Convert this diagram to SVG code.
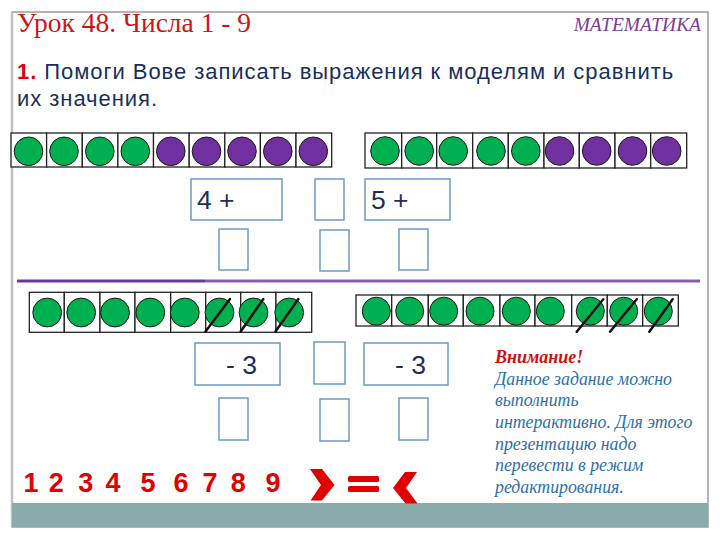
<svg xmlns="http://www.w3.org/2000/svg" width="720" height="540" viewBox="0 0 720 540">
<style>
.cell{fill:#ffffff;stroke:#222;stroke-width:1.3}
.g{fill:#00b050;stroke:#1a1a1a;stroke-width:1}
.p{fill:#7030a0;stroke:#1a1a1a;stroke-width:1}
.box{fill:#ffffff;stroke:#6a9bc7;stroke-width:1.5}
.slash{stroke:#111;stroke-width:2.5;stroke-linecap:round}
.bt{font-family:"Liberation Sans",Arial,sans-serif;font-size:26.5px;fill:#1f2d5a}
.dig{font-family:"Liberation Sans",Arial,sans-serif;font-size:27px;font-weight:bold;fill:#e00000;text-anchor:middle}
.note{font-family:"Liberation Serif","Times New Roman",serif;font-style:italic;font-size:17.8px;fill:#2e6fae}
.sym{fill:#e00000}
</style>
<rect x="0" y="0" width="720" height="540" fill="#ffffff"/>
<g id="frame">
<rect x="12" y="12" width="696" height="515" fill="#ffffff" stroke="#9a9a9a" stroke-width="1.5"/>
<line x1="12" y1="12" x2="12" y2="527" stroke="#c0c0c0" stroke-width="2.5"/>
<rect x="12" y="503" width="696" height="24" fill="#8aabab"/>
</g>
<g id="title">
<text x="17" y="32" font-family="Liberation Serif,'Times New Roman',serif" font-size="27.5" fill="#c81818">Урок 48. Числа 1 - 9</text>
<text x="701" y="31" text-anchor="end" font-family="Liberation Serif,'Times New Roman',serif" font-style="italic" font-size="19.5" fill="#7a3d98">МАТЕМАТИКА</text>
</g>
<g id="task" font-family="Liberation Sans,Arial,sans-serif" font-size="22" letter-spacing="0.95" fill="#17305e">
<text x="17" y="79"><tspan font-weight="bold" fill="#e00000">1.</tspan> Помоги Вове записать выражения к моделям и сравнить</text>
<text x="17" y="106">их значения.</text>
</g>
<g id="row1">
<rect class="cell" x="11" y="133" width="35.6" height="34"/>
<rect class="cell" x="46.6" y="133" width="35.7" height="34"/>
<rect class="cell" x="82.3" y="133" width="35.6" height="34"/>
<rect class="cell" x="117.9" y="133" width="35.6" height="34"/>
<rect class="cell" x="153.5" y="133" width="35.7" height="34"/>
<rect class="cell" x="189.2" y="133" width="35.6" height="34"/>
<rect class="cell" x="224.8" y="133" width="35.6" height="34"/>
<rect class="cell" x="260.4" y="133" width="35.6" height="34"/>
<rect class="cell" x="296" y="133" width="35.7" height="34"/>
<circle class="g" cx="28.5" cy="151.3" r="14.3"/>
<circle class="g" cx="64" cy="151.3" r="14.3"/>
<circle class="g" cx="99.8" cy="151.3" r="14.3"/>
<circle class="g" cx="135.3" cy="151.3" r="14.3"/>
<circle class="p" cx="170.8" cy="151.3" r="14.3"/>
<circle class="p" cx="206.5" cy="151.3" r="14.3"/>
<circle class="p" cx="242" cy="151.3" r="14.3"/>
<circle class="p" cx="277.8" cy="151.3" r="14.3"/>
<circle class="p" cx="313.3" cy="151.3" r="14.3"/>
</g>
<g id="row2">
<rect class="cell" x="365" y="133" width="36.7" height="35"/>
<rect class="cell" x="401.7" y="133" width="35" height="35"/>
<rect class="cell" x="436.7" y="133" width="36" height="35"/>
<rect class="cell" x="472.7" y="133" width="35.6" height="35"/>
<rect class="cell" x="508.3" y="133" width="35.7" height="35"/>
<rect class="cell" x="544" y="133" width="35.3" height="35"/>
<rect class="cell" x="579.3" y="133" width="35.7" height="35"/>
<rect class="cell" x="615" y="133" width="35.7" height="35"/>
<rect class="cell" x="650.7" y="133" width="36" height="35"/>
<circle class="g" cx="385" cy="151" r="14.3"/>
<circle class="g" cx="419.2" cy="151" r="14.3"/>
<circle class="g" cx="453.2" cy="151" r="14.3"/>
<circle class="g" cx="491" cy="151" r="14.3"/>
<circle class="g" cx="525.8" cy="151" r="14.3"/>
<circle class="p" cx="559.5" cy="151" r="14.3"/>
<circle class="p" cx="596.7" cy="151" r="14.3"/>
<circle class="p" cx="632.5" cy="151" r="14.3"/>
<circle class="p" cx="666.7" cy="151" r="14.3"/>
</g>
<g id="boxes1">
<rect class="box" x="191" y="179" width="91" height="41"/>
<text class="bt" x="197" y="209">4 +</text>
<rect class="box" x="315" y="179" width="29" height="41"/>
<rect class="box" x="365" y="179" width="85" height="41"/>
<text class="bt" x="371" y="209">5 +</text>
<rect class="box" x="219" y="229" width="29" height="41"/>
<rect class="box" x="320" y="230" width="29" height="41"/>
<rect class="box" x="399" y="229" width="29" height="41"/>
</g>
<g id="divider">
<line x1="17" y1="281" x2="205" y2="281" stroke="#6b3a98" stroke-width="3"/>
<line x1="205" y1="281" x2="700" y2="281" stroke="#8a5cb0" stroke-width="3"/>
</g>
<g id="row3">
<rect class="cell" x="29.3" y="292.3" width="35" height="40"/>
<rect class="cell" x="64.3" y="292.3" width="35.7" height="40"/>
<rect class="cell" x="100" y="292.3" width="35" height="40"/>
<rect class="cell" x="135" y="292.3" width="35.7" height="40"/>
<rect class="cell" x="170.7" y="292.3" width="35" height="40"/>
<rect class="cell" x="205.7" y="292.3" width="35" height="40"/>
<rect class="cell" x="240.7" y="292.3" width="35.3" height="40"/>
<rect class="cell" x="276" y="292.3" width="35.7" height="40"/>
<circle class="g" cx="47.2" cy="312.5" r="14.4"/>
<circle class="g" cx="81.2" cy="312.5" r="14.4"/>
<circle class="g" cx="115" cy="312.5" r="14.4"/>
<circle class="g" cx="150.3" cy="312.5" r="14.4"/>
<circle class="g" cx="184.8" cy="312.5" r="14.4"/>
<circle class="g" cx="219.5" cy="312.5" r="14.4"/>
<circle class="g" cx="253.5" cy="312.5" r="14.4"/>
<circle class="g" cx="289.2" cy="312.5" r="14.4"/>
<line class="slash" x1="205.5" y1="331.5" x2="230" y2="299"/>
<line class="slash" x1="240.7" y1="331.5" x2="263.3" y2="299"/>
<line class="slash" x1="275.5" y1="331.5" x2="298.3" y2="299"/>
</g>
<g id="row4">
<rect class="cell" x="356" y="295" width="35.7" height="31"/>
<rect class="cell" x="391.7" y="295" width="36.6" height="31"/>
<rect class="cell" x="428.3" y="295" width="35" height="31"/>
<rect class="cell" x="463.3" y="295" width="36.7" height="31"/>
<rect class="cell" x="500" y="295" width="35" height="31"/>
<rect class="cell" x="535" y="295" width="36.7" height="31"/>
<rect class="cell" x="571.7" y="295" width="35.6" height="31"/>
<rect class="cell" x="607.3" y="295" width="35.4" height="31"/>
<rect class="cell" x="642.7" y="295" width="35.6" height="31"/>
<circle class="g" cx="376.3" cy="311.2" r="14"/>
<circle class="g" cx="409.7" cy="311.2" r="14"/>
<circle class="g" cx="443.7" cy="311.2" r="14"/>
<circle class="g" cx="480" cy="311.2" r="14"/>
<circle class="g" cx="516.3" cy="311.2" r="14"/>
<circle class="g" cx="550.3" cy="311.2" r="14"/>
<circle class="g" cx="590.3" cy="311.2" r="14"/>
<circle class="g" cx="623.7" cy="311.2" r="14"/>
<circle class="g" cx="658.3" cy="311.2" r="14"/>
<line class="slash" x1="576.7" y1="331.7" x2="603.3" y2="299.3"/>
<line class="slash" x1="610" y1="331.7" x2="636.7" y2="299.3"/>
<line class="slash" x1="649.3" y1="331.7" x2="672.7" y2="299.3"/>
</g>
<g id="boxes2">
<rect class="box" x="195" y="343" width="85" height="42"/>
<text class="bt" x="226" y="374" font-size="27">- 3</text>
<rect class="box" x="314" y="342" width="31" height="42"/>
<rect class="box" x="364" y="343" width="84" height="42"/>
<text class="bt" x="395" y="374" font-size="27">- 3</text>
<rect class="box" x="219" y="398" width="29" height="42"/>
<rect class="box" x="320" y="399" width="29" height="42"/>
<rect class="box" x="399" y="398" width="29" height="42"/>
</g>
<g id="note">
<text x="495" y="363" font-family="Liberation Serif,'Times New Roman',serif" font-style="italic" font-weight="bold" font-size="18" fill="#d01010">Внимание!</text>
<text class="note" x="495" y="385">Данное задание можно</text>
<text class="note" x="495" y="406">выполнить</text>
<text class="note" x="495" y="428">интерактивно. Для этого</text>
<text class="note" x="495" y="450">презентацию надо</text>
<text class="note" x="495" y="471">перевести в режим</text>
<text class="note" x="495" y="493">редактирования.</text>
</g>
<g id="digits">
<text class="dig" x="31" y="492">1</text>
<text class="dig" x="56.3" y="492">2</text>
<text class="dig" x="85.7" y="492">3</text>
<text class="dig" x="113" y="492">4</text>
<text class="dig" x="148" y="492">5</text>
<text class="dig" x="181" y="492">6</text>
<text class="dig" x="210" y="492">7</text>
<text class="dig" x="238.3" y="492">8</text>
<text class="dig" x="273" y="492">9</text>
</g>
<g id="symbols">
<polygon class="sym" points="310,469 322,469 334.5,485 322,500.5 310.5,500.5 321,485"/>
<rect class="sym" x="348" y="476" width="31" height="6" rx="1.5"/>
<rect class="sym" x="348" y="486" width="31" height="6" rx="1.5"/>
<polygon class="sym" points="405,472 417,472 406,488 417.5,503.5 405.5,503.5 393,488"/>
</g>
</svg>
